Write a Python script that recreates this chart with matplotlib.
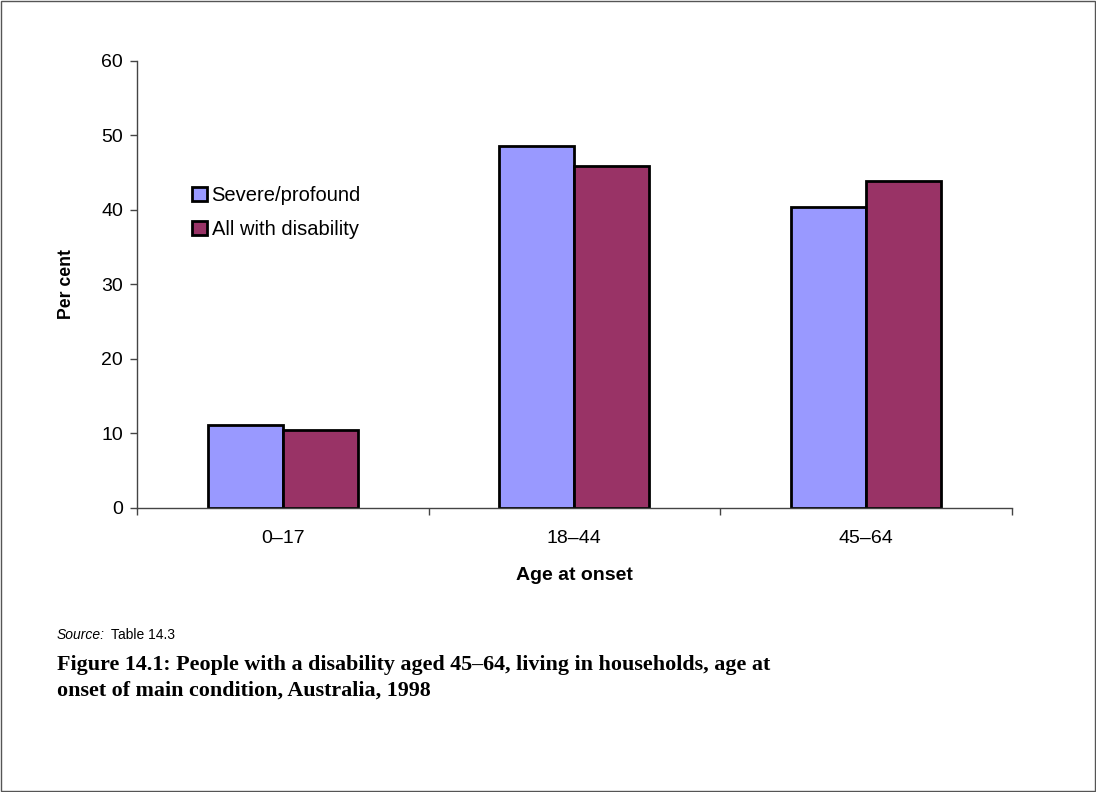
import numpy as np
import matplotlib
matplotlib.use("Agg")
import matplotlib.pyplot as plt
from matplotlib.patches import Rectangle

plt.rcParams['font.family'] = ['Liberation Sans', 'DejaVu Sans']

categories = ['0–17', '18–44', '45–64']
severe = [11.1, 48.6, 40.4]
all_disability = [10.5, 45.9, 43.9]
series_names = ['Severe/profound', 'All with disability']
colours = ['#9999FF', '#993366']

fig = plt.figure(figsize=(10.96, 7.92), dpi=100)
ax = fig.add_axes([0.125, 0.3586, 0.798, 0.5644])

x = np.arange(len(categories))
w = 0.257
ax.bar(x - w / 2, severe, w, color=colours[0], edgecolor='black', linewidth=2,
       label=series_names[0])
ax.bar(x + w / 2, all_disability, w, color=colours[1], edgecolor='black', linewidth=2,
       label=series_names[1])

ax.set_xlim(-0.5, len(categories) - 0.5)
ax.set_ylim(0, 60)
ax.set_yticks(range(0, 61, 10))
ax.set_xticks(x)
ax.set_xticklabels(categories, fontsize=14)
ax.set_xticks(np.arange(-0.5, len(categories), 1), minor=True)
ax.tick_params(axis='x', which='major', length=0, pad=16)
ax.tick_params(axis='x', which='minor', length=5, width=1, color='#444444')
ax.tick_params(axis='y', length=5, width=1, color='#444444', labelsize=14, pad=5)
for s in ['top', 'right']:
    ax.spines[s].set_visible(False)
for s in ['left', 'bottom']:
    ax.spines[s].set_color('#444444')
    ax.spines[s].set_linewidth(1)

ax.set_xlabel('Age at onset', fontsize=14, fontweight='bold', labelpad=14)
ax.set_ylabel('Per cent', fontsize=12.7, fontweight='bold', labelpad=19)

leg = ax.legend(loc='upper left', bbox_to_anchor=(0.063, 0.72), frameon=False,
                fontsize=14.5, handlelength=0.72, handleheight=0.68, handletextpad=0.25,
                labelspacing=0.75, borderaxespad=0, borderpad=0)

fig.text(0.052, 0.198, 'Source:', fontsize=10, style='italic', va='center')
fig.text(0.1013, 0.198, 'Table 14.3', fontsize=10, va='center')
fig.text(0.052, 0.144,
         'Figure 14.1: People with a disability aged 45–64, living in households, age at\n'
         'onset of main condition, Australia, 1998',
         fontsize=15.8, fontweight='bold', family=['Liberation Serif', 'DejaVu Serif'],
         va='center', linespacing=1.38)

fig.patches.append(Rectangle((0.001, 0.001), 0.998, 0.998, transform=fig.transFigure,
                             fill=False, edgecolor='#555555', linewidth=1))

fig.savefig('out.png', dpi=100)
